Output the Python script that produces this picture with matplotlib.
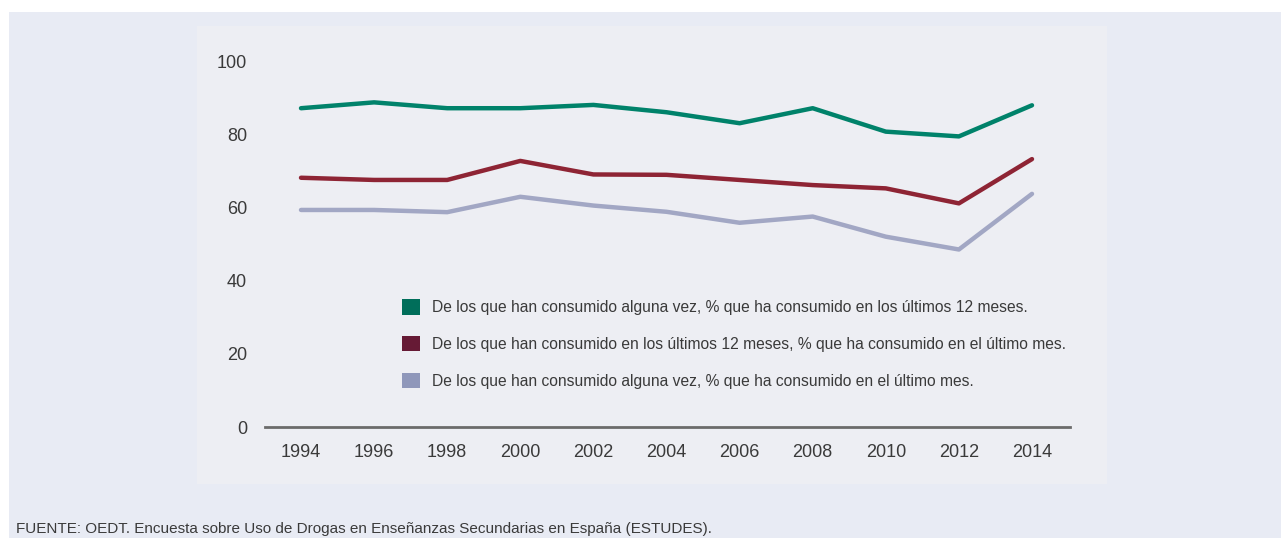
import matplotlib
matplotlib.use("Agg")
import matplotlib.pyplot as plt
from matplotlib.patches import Patch, Rectangle

plt.rcParams['font.family'] = ['Liberation Sans', 'DejaVu Sans']

# Datos
years = [1994, 1996, 1998, 2000, 2002, 2004, 2006, 2008, 2010, 2012, 2014]
alguna_vez_12m = [87.1, 88.7, 87.1, 87.1, 88.0, 86.0, 83.0, 87.1, 80.7, 79.4, 87.9]
ult12m_ultmes = [68.1, 67.5, 67.5, 72.7, 69.0, 68.9, 67.5, 66.1, 65.2, 61.1, 73.2]
alguna_vez_ultmes = [59.3, 59.3, 58.7, 62.9, 60.5, 58.8, 55.8, 57.5, 52.0, 48.5, 63.7]

labels = [
    "De los que han consumido alguna vez, % que ha consumido en los últimos 12 meses.",
    "De los que han consumido en los últimos 12 meses, % que ha consumido en el último mes.",
    "De los que han consumido alguna vez, % que ha consumido en el último mes.",
]
line_colors = ['#00826A', '#8E2434', '#A2A7C4']
legend_colors = ['#006E5A', '#661A35', '#8F97BA']
yticks = [0, 20, 40, 60, 80, 100]
source = "FUENTE: OEDT. Encuesta sobre Uso de Drogas en Enseñanzas Secundarias en España (ESTUDES)."

W, H = 1281, 538
fig = plt.figure(figsize=(W / 100, H / 100), dpi=100)
fig.patch.set_facecolor('white')

# fondos
fig.patches.append(Rectangle((9 / W, 0), 1 - 9 / W, (H - 12) / H, transform=fig.transFigure,
                             facecolor='#E8EBF4', edgecolor='none', zorder=-10))
fig.patches.append(Rectangle((197 / W, (H - 484) / H), (1107 - 197) / W, (484 - 26) / H,
                             transform=fig.transFigure, facecolor='#EDEEF3', edgecolor='none', zorder=-9))

left, right = 265, 1070
bottom, top = 427, 61
ax = fig.add_axes([left / W, (H - bottom) / H, (right - left) / W, (bottom - top) / H])
ax.set_facecolor('none')
ax.set_zorder(5)

px_per_year = (1032 - 301) / 20
ax.set_xlim(1994 - (301 - left) / px_per_year, 2014 + (right - 1032) / px_per_year)
ax.set_ylim(0, 100)

series = [alguna_vez_12m, ult12m_ultmes, alguna_vez_ultmes]
for vals, c in zip(series, line_colors):
    ax.plot(years, vals, color=c, lw=3.2, solid_capstyle='round', solid_joinstyle='round', clip_on=False)

for s in ['top', 'right', 'left']:
    ax.spines[s].set_visible(False)
ax.spines['bottom'].set_color('#6b6b6b')
ax.spines['bottom'].set_linewidth(2)

ax.set_xticks(years)
ax.set_xticklabels([str(y) for y in years])
ax.set_yticks(yticks)
ax.tick_params(axis='x', length=0, pad=12, labelsize=13, labelcolor='#3a3a3a')
ax.tick_params(axis='y', length=0, pad=13, labelsize=13, labelcolor='#3a3a3a')

handles = [Patch(facecolor=c, edgecolor='none') for c in legend_colors]
leg = fig.legend(handles, labels, loc='upper left', bbox_to_anchor=(402 / W, (H - 299) / H),
                 frameon=False, fontsize=11.25, handlelength=1.15, handleheight=1.15,
                 handletextpad=0.8, labelspacing=1.33, borderpad=0, borderaxespad=0)
leg.set_zorder(6)
for t in leg.get_texts():
    t.set_color('#3a3a3a')

fig.text(16 / W, (H - 533) / H, source, fontsize=11, color='#3a3a3a', ha='left', va='baseline')

fig.savefig('out.png', dpi=100)
